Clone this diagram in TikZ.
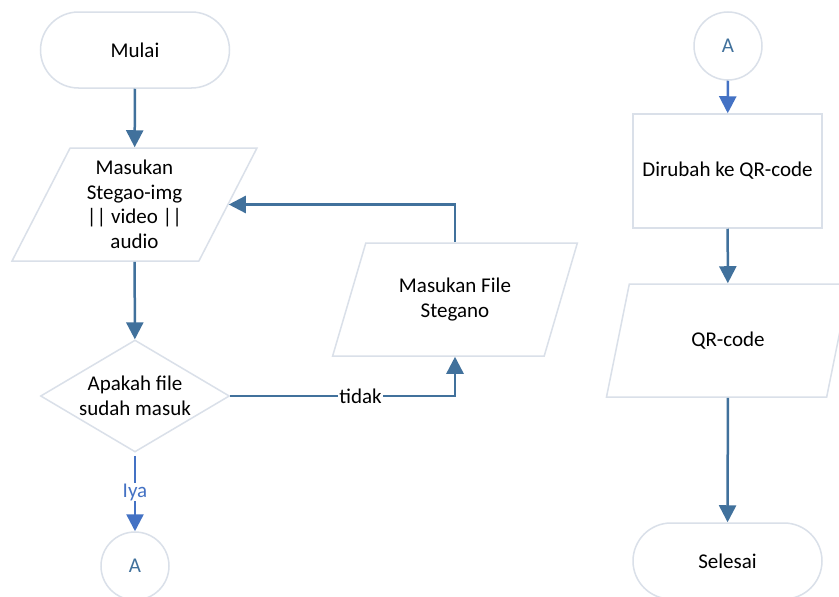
\documentclass[tikz,border=0pt]{standalone}
\usepackage{fontspec}
\setmainfont{Carlito}
\usetikzlibrary{shapes.geometric,arrows.meta}
\definecolor{bord}{HTML}{DAE0E9}
\definecolor{arr}{HTML}{41719C}
\definecolor{arrb}{HTML}{4472C4}
\begin{document}
\begin{tikzpicture}[x=1pt,y=-1pt, font=\fontsize{21}{24.5}\selectfont,
  shapebase/.style={draw=bord, line width=1.5pt, fill=white, align=center},
  term/.style={shapebase, rectangle, rounded corners=38pt, minimum width=189pt, minimum height=76pt},
  io/.style={shapebase, trapezium, trapezium left angle=64, trapezium right angle=116, trapezium stretches=true, minimum width=245pt, minimum height=113pt, inner sep=0pt},
  proc/.style={shapebase, rectangle, minimum width=189pt, minimum height=114pt},
  dec/.style={shapebase, diamond, aspect=1.6875, minimum width=189pt, minimum height=112pt, inner sep=0pt},
  conn/.style={shapebase, circle, minimum size=68pt, inner sep=0pt, text=arr},
  arrow/.style={draw=arr, line width=2.5pt, -{Triangle[width=17pt,length=17pt]}},
  arrowb/.style={draw=arrb, line width=2.5pt, -{Triangle[width=17pt,length=17pt]}},
  lbl/.style={fill=white, inner sep=1pt}
]
\clip (0,0) rectangle (839,597);
\fill[white] (0,0) rectangle (839,597);

\node[term] (mulai) at (135,50) {Mulai};
\node[io] (in1) at (134.5,204.5) {Masukan\\Stegao-img\\|| video ||\\audio};
\node[dec] (cek) at (135,396) {Apakah file\\sudah masuk};
\node[conn] (a1) at (135,566) {A};
\node[io] (in2) at (455,299.5) {Masukan File\\Stegano};

\node[conn] (a2) at (728,46) {A};
\node[proc] (ubah) at (727.5,171) {Dirubah ke QR-code};
\node[io] (qr) at (728,340.5) {QR-code};
\node[term] (selesai) at (727.5,561) {Selesai};

\draw[arrow] (mulai) -- (in1);
\draw[arrow] (in1) -- (cek);
\draw[arrowb, shorten <=3pt] (cek.south) -- node[lbl, text=arrb] {Iya} (a1.north);
\draw[arrow] (cek.east) -| node[lbl, pos=0.29, text=black] {tidak} (in2.south);
\draw[arrow] (in2.north) |- (in1.east);

\draw[arrowb] (a2) -- (ubah);
\draw[arrow] (ubah) -- (qr);
\draw[arrow] (qr) -- (selesai);
\end{tikzpicture}
\end{document}
